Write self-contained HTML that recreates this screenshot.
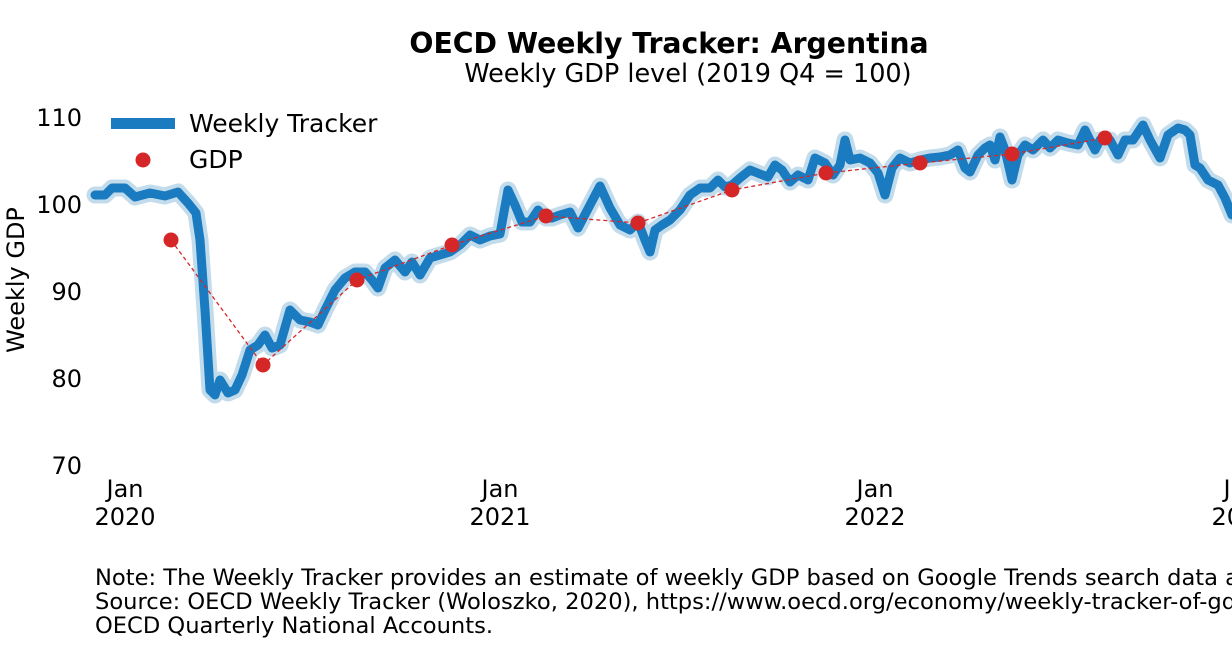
<!DOCTYPE html>
<html><head><meta charset="utf-8"><style>
body{margin:0;background:#fff;}
svg{display:block;font-family:"DejaVu Sans","Liberation Sans",sans-serif;}
</style></head><body>
<svg width="1232" height="670" viewBox="0 0 1232 670" xmlns="http://www.w3.org/2000/svg">
<text x="669" y="53" text-anchor="middle" font-size="28.3" font-weight="bold">OECD Weekly Tracker: Argentina</text>
<text x="688" y="82" text-anchor="middle" font-size="25.5">Weekly GDP level (2019 Q4 = 100)</text>
<g font-size="24" text-anchor="end">
<text x="82" y="126">110</text><text x="82" y="213">100</text><text x="82" y="300">90</text><text x="82" y="387">80</text><text x="82" y="474">70</text>
</g>
<text x="0" y="0" font-size="24" transform="translate(24,280) rotate(-90)" text-anchor="middle">Weekly GDP</text>
<g font-size="24" text-anchor="middle">
<text x="125" y="497">Jan</text><text x="125" y="525">2020</text>
<text x="500" y="497">Jan</text><text x="500" y="525">2021</text>
<text x="875" y="497">Jan</text><text x="875" y="525">2022</text>
<text x="1242" y="497">Jan</text><text x="1242" y="525">2023</text>
</g>
<defs><polyline id="tr" fill="none" stroke-linejoin="round" stroke-linecap="round" points="95,195 105,195 112,188 125,188 135,197 150,193 165,196 178,192 188,203 196,213 200,240 205,310 210,390 215,395 220,380 228,393 235,390 242,375 250,350 258,345 265,335 272,348 280,345 290,310 300,320 310,322 318,325 325,310 335,290 345,278 355,272 365,272 372,280 378,288 385,268 395,260 405,272 412,262 420,275 430,258 440,255 450,252 460,245 470,235 480,240 490,236 500,234 508,190 515,205 522,222 530,222 538,210 546,218 552,218 560,215 570,212 578,228 590,205 600,186 610,208 620,225 630,230 638,222 645,240 650,252 655,230 662,225 670,220 680,210 690,195 700,188 710,188 718,180 725,187 732,185 740,178 750,170 760,174 768,177 775,165 782,170 790,182 798,175 808,180 815,158 825,163 833,175 840,165 845,140 850,160 860,158 870,163 878,173 885,195 892,168 900,158 910,163 920,160 930,158 940,157 950,155 958,150 965,168 970,172 978,155 985,148 990,145 995,160 1000,137 1005,150 1012,180 1018,155 1025,145 1033,150 1043,140 1050,148 1058,140 1068,143 1078,145 1085,130 1095,150 1100,140 1110,140 1118,155 1125,140 1133,140 1143,125 1150,140 1160,158 1168,135 1178,128 1185,130 1190,135 1195,165 1200,168 1208,180 1218,185 1225,198 1232,215"/></defs>
<use href="#tr" stroke="#c3dcec" stroke-width="17"/>
<use href="#tr" stroke="#1a7bc0" stroke-width="9"/>
<polyline fill="none" stroke="#d62728" stroke-width="1.3" stroke-dasharray="4,3" points="171,240 263,365 357,280 452,245 546,216 638,223 732,190 826,173 920,163 1012,154 1105,138"/>
<g fill="#d62728">
<circle cx="171" cy="240" r="7.5"/><circle cx="263" cy="365" r="7.5"/><circle cx="357" cy="280" r="7.5"/><circle cx="452" cy="245" r="7.5"/><circle cx="546" cy="216" r="7.5"/><circle cx="638" cy="223" r="7.5"/><circle cx="732" cy="190" r="7.5"/><circle cx="826" cy="173" r="7.5"/><circle cx="920" cy="163" r="7.5"/><circle cx="1012" cy="154" r="7.5"/><circle cx="1105" cy="138" r="7.5"/>
</g>
<rect x="111" y="118" width="64" height="11" fill="#1a7bc0"/>
<text x="189" y="132" font-size="25">Weekly Tracker</text>
<circle cx="143" cy="160" r="7.5" fill="#d62728"/>
<text x="189" y="168" font-size="25">GDP</text>
<g font-size="22.6">
<text x="95" y="585">Note: The Weekly Tracker provides an estimate of weekly GDP based on Google Trends search data and machine learning.</text>
<text x="95" y="609">Source: OECD Weekly Tracker (Woloszko, 2020), https://www.oecd.org/economy/weekly-tracker-of-gdp-growth/ and</text>
<text x="95" y="633">OECD Quarterly National Accounts.</text>
</g>
</svg>
</body></html>
